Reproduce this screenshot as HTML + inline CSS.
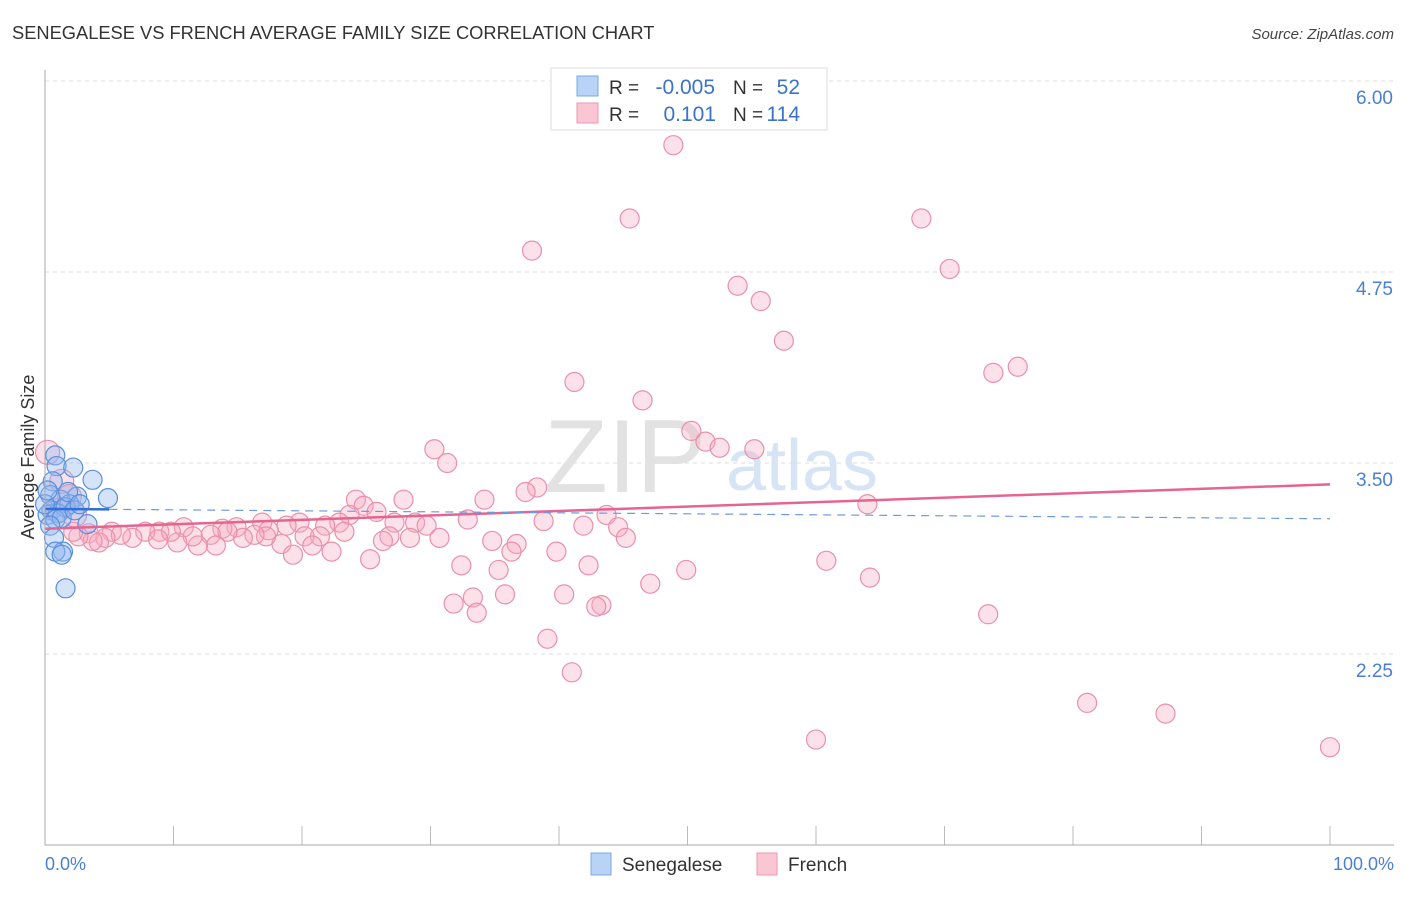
<!DOCTYPE html>
<html><head><meta charset="utf-8"><style>
body{margin:0;background:#fff;font-family:"Liberation Sans",sans-serif;}
svg text{font-family:"Liberation Sans",sans-serif;}
</style></head><body>
<svg id="chart" width="1406" height="892" viewBox="0 0 1406 892">
<text x="12" y="39" font-size="18.3" fill="#333">SENEGALESE VS FRENCH AVERAGE FAMILY SIZE CORRELATION CHART</text>
<text x="1394" y="39" font-size="15" fill="#444" font-style="italic" text-anchor="end">Source: ZipAtlas.com</text>
<g id="grid"></g>
<text x="625" y="492" font-size="104" fill="#e2e2e2" font-family="Liberation Serif" text-anchor="middle">ZIP</text>
<text x="802" y="490" font-size="72" fill="#d6e4f5" text-anchor="middle">atlas</text>
<g id="pts"></g>
<g id="trend"></g>
<line x1="45" y1="70" x2="45" y2="845" stroke="#aaa"/>
<line x1="45" y1="845" x2="1394" y2="845" stroke="#aaa"/>
<text transform="translate(34,457) rotate(-90)" font-size="18" fill="#333" text-anchor="middle">Average Family Size</text>
<text x="45" y="870" font-size="18" fill="#4a7fd4">0.0%</text>
<text x="1394" y="870" font-size="18" fill="#4a7fd4" text-anchor="end">100.0%</text>
<g><rect x="591" y="853" width="20" height="22" fill="#b8d3f5" stroke="#7aa7e3"/><text x="622" y="871" font-size="19" fill="#333">Senegalese</text></g>
<g><rect x="757" y="853" width="20" height="22" fill="#fbc6d4" stroke="#e899b0"/><text x="788" y="871" font-size="19" fill="#333">French</text></g>
<g>
<rect x="551" y="68" width="276" height="62" fill="#fff" stroke="#ddd"/>
<rect x="577" y="76" width="21" height="20" fill="#b8d3f5" stroke="#7aa7e3"/>
<rect x="577" y="103" width="21" height="20" fill="#fbc6d4" stroke="#e899b0"/>
<text x="609" y="94" font-size="19" fill="#333">R =</text>
<text x="715" y="94" font-size="21" fill="#3a72cc" text-anchor="end">-0.005</text>
<text x="733" y="94" font-size="19" fill="#333">N =</text>
<text x="800" y="94" font-size="21" fill="#3a72cc" text-anchor="end">52</text>
<text x="609" y="121" font-size="19" fill="#333">R =</text>
<text x="716" y="121" font-size="21" fill="#3a72cc" text-anchor="end">0.101</text>
<text x="733" y="121" font-size="19" fill="#333">N =</text>
<text x="800" y="121" font-size="21" fill="#3a72cc" text-anchor="end">114</text>
</g>
</svg>
<script>
const yTicks=[6.00,4.75,3.50,2.25];
const yTickLabels=["6.00","4.75","3.50","2.25"];
const senX=[0.8,0.9,2.2,3.7,0.6,4.9,2.5,0.4,1.2,1.9,0.5,0.2,1.0,1.6,0.8,1.3,3.3,0.4,0.7,1.4,0.8,1.3,1.6,2.3,0,0.2,1.8,2.7];
const senY=[3.55,3.48,3.47,3.39,3.38,3.27,3.28,3.29,3.26,3.23,3.19,3.16,3.17,3.21,3.13,3.14,3.10,3.09,3.01,2.92,2.92,2.90,2.68,3.19,3.23,3.32,3.31,3.23];
const frX=[48.9,45.5,68.2,37.9,70.4,53.9,55.7,57.5,75.7,73.8,41.2,46.5,50.3,51.4,52.5,55.2,30.3,31.3,38.3,37.4,34.2,27.9,24.2,24.8,25.8,64.0,43.7,32.9,38.8,41.9,44.6,45.2,28.8,29.7,27.2,23.7,22.9,21.8,19.8,18.8,16.9,17.4,14.9,13.8,10.8,8.9,7.8,5.2,3.4,30.7,28.4,26.8,26.3,23.3,21.4,20.2,18.4,17.2,16.3,15.4,14.2,12.9,13.3,11.9,11.5,10.3,9.8,8.8,6.8,5.9,4.7,4.2,3.7,2.6,2.2,20.8,19.3,22.3,25.3,34.8,36.7,36.3,39.8,42.3,32.4,35.3,49.9,60.8,64.2,47.1,40.4,35.8,33.3,31.8,33.6,43.3,42.9,73.4,39.1,41.0,81.1,87.2,60.0,100,0.2,1.3,1.9,1.0,2.3];
const frY=[5.58,5.10,5.10,4.89,4.77,4.66,4.56,4.30,4.13,4.09,4.03,3.91,3.71,3.64,3.60,3.59,3.59,3.50,3.34,3.31,3.26,3.26,3.26,3.22,3.18,3.23,3.16,3.13,3.12,3.09,3.08,3.01,3.11,3.09,3.11,3.16,3.11,3.09,3.11,3.09,3.11,3.06,3.08,3.07,3.08,3.05,3.05,3.05,3.04,3.01,3.01,3.02,2.99,3.05,3.02,3.02,2.97,3.02,3.03,3.01,3.05,3.03,2.96,2.96,3.02,2.98,3.05,3.00,3.01,3.03,3.01,2.98,2.99,3.02,3.05,2.96,2.90,2.92,2.87,2.99,2.97,2.92,2.92,2.83,2.83,2.80,2.80,2.86,2.75,2.71,2.64,2.64,2.62,2.58,2.52,2.57,2.56,2.51,2.35,2.13,1.93,1.86,1.69,1.64,3.57,3.38,3.28,3.19,3.16];
const senTrend=[3.20,3.135];
const frTrend=[3.07,3.36];
const X=p=>45+p*12.85, Y=v=>463-(v-3.5)*152.8;
const NS="http://www.w3.org/2000/svg";
const mk=(t,a,parent)=>{const e=document.createElementNS(NS,t);for(const k in a)e.setAttribute(k,a[k]);document.getElementById(parent).appendChild(e);return e;};
yTicks.forEach((v,i)=>{
 const l=mk('line',{x1:45,x2:1394,y1:Y(v),y2:Y(v),stroke:'#ddd','stroke-dasharray':'4,4'},'grid');
 
 
 const t=mk('text',{x:1393,y:Y(v)+23,'font-size':19,fill:'#4a7fd4','text-anchor':'end'},'grid');
 t.textContent=yTickLabels[i];
 
 
});
for(let i=0;i<=10;i++){
 const l=mk('line',{x1:X(i*10),x2:X(i*10),y1:826,y2:845,stroke:'#bbb'},'grid');
 
 
}
frX.forEach((x,i)=>{
 const c=mk('circle',{cx:X(x),cy:Y(frY[i]),r:i>=frX.length-5?12:9.5,fill:'rgba(246,170,195,0.35)',stroke:'#ea90aa','stroke-width':1.2},'pts');
 
 
});
senX.forEach((x,i)=>{
 const c=mk('circle',{cx:X(x),cy:Y(senY[i]),r:9.5,fill:'rgba(150,185,240,0.4)',stroke:'#5b8fdc','stroke-width':1.2},'pts');
 
 
});
let l=mk('line',{x1:X(0),x2:X(100),y1:Y(frTrend[0]),y2:Y(frTrend[1]),stroke:'#e6648e','stroke-width':2.5},'trend');


const sY=p=>senTrend[0]+(senTrend[1]-senTrend[0])*p/100;
l=mk('line',{x1:X(5),x2:X(100),y1:Y(sY(5)),y2:Y(sY(100)),stroke:'#6f9ae0','stroke-width':1.2,'stroke-dasharray':'8,6'},'trend');


l=mk('line',{x1:X(0),x2:X(5),y1:Y(sY(0)),y2:Y(sY(5)),stroke:'#2f6fd6','stroke-width':2.5},'trend');


</script>
</body></html>
